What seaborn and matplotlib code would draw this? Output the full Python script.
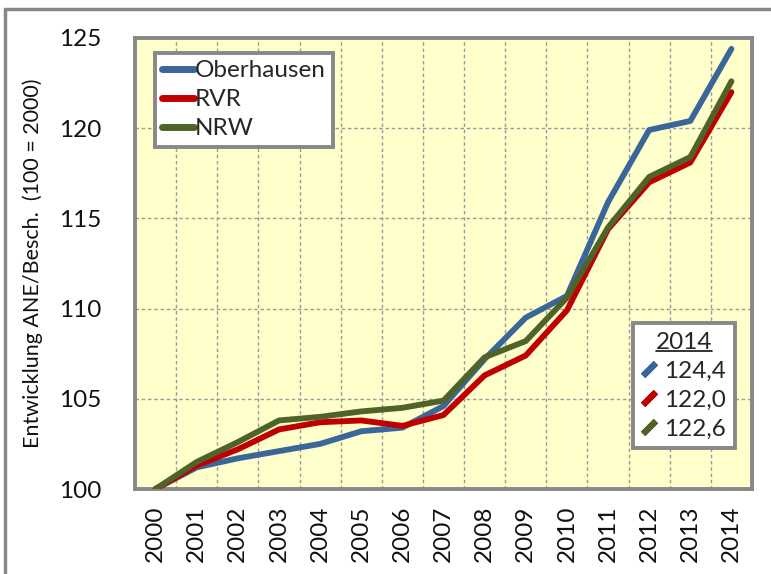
import numpy as np
import pandas as pd
import matplotlib
matplotlib.use("Agg")
import matplotlib.pyplot as plt
import seaborn as sns
from matplotlib.lines import Line2D
from matplotlib.patches import Rectangle

years = [str(y) for y in range(2000, 2015)]
oberhausen = [100.0, 101.2, 101.7, 102.1, 102.5, 103.2, 103.4, 104.6, 107.2, 109.5, 110.7, 115.9, 119.9, 120.4, 124.4]
rvr        = [100.0, 101.3, 102.2, 103.3, 103.7, 103.8, 103.5, 104.1, 106.3, 107.4, 109.9, 114.4, 117.0, 118.1, 122.0]
nrw        = [100.0, 101.5, 102.6, 103.8, 104.0, 104.3, 104.5, 104.9, 107.3, 108.2, 110.6, 114.5, 117.3, 118.4, 122.6]
series_names = ["Oberhausen", "RVR", "NRW"]
last_labels = ["124,4", "122,0", "122,6"]
colors = {"Oberhausen": "#3A6699", "RVR": "#C00000", "NRW": "#4F6228"}

df = pd.concat([
    pd.DataFrame({"idx": np.arange(len(years)), "year": years, "value": vals, "region": name})
    for name, vals in zip(series_names, [oberhausen, rvr, nrw])
], ignore_index=True)

sns.set_style("white")
plt.rcParams["font.family"] = ["Lato", "DejaVu Sans"]

FS = 17.5
W, H = 771, 574
fig = plt.figure(figsize=(W / 100, H / 100), dpi=100)
ax = fig.add_axes([135 / W, 1 - 489 / H, (752 - 135) / W, (489 - 38) / H])
ax.set_facecolor("#FFFFCC")

sns.lineplot(data=df, x="idx", y="value", hue="region", hue_order=series_names,
             palette=colors, linewidth=4.2, legend=False, ax=ax,
             solid_capstyle="round", solid_joinstyle="round", zorder=3)

ax.set_xlim(-0.5, len(years) - 0.5)
ax.set_ylim(100, 125)
ax.set_yticks([100, 105, 110, 115, 120, 125])
ax.set_yticklabels(["100", "105", "110", "115", "120", "125"])
ax.set_xticks(np.arange(-0.5, len(years), 1.0))
ax.set_xticklabels([])
ax.set_xticks(np.arange(len(years)), minor=True)
ax.set_xticklabels(years, minor=True, rotation=90)
ax.tick_params(axis="x", which="major", length=6, width=2.5, color="#888888", direction="out")
ax.tick_params(axis="x", which="minor", length=0, pad=12, labelsize=FS, labelcolor="#111111")
ax.tick_params(axis="y", which="major", length=7, width=1.5, color="#888888", direction="out",
               pad=17, labelsize=FS, labelcolor="#111111")
ax.set_xlabel("")
ax.set_ylabel("Entwicklung ANE/Besch.  (100 = 2000)", fontsize=15.5, labelpad=12, color="#111111")

ax.grid(True, which="major", axis="both", color="#9a9a9a", linestyle=(0, (2.5, 2)), linewidth=1.0, zorder=0)
ax.set_axisbelow(True)
for s in ax.spines.values():
    s.set_visible(True)
    s.set_color("#888888")
    s.set_linewidth(2.8)

handles = [Line2D([], [], color=colors[n], linewidth=5) for n in series_names]
leg1 = ax.legend(handles, series_names, loc="upper left", bbox_to_anchor=(0.032, 0.967),
                 borderaxespad=0, fontsize=FS, handlelength=1.3, handletextpad=0.05,
                 labelspacing=0.33, borderpad=0.3, frameon=True, fancybox=False, framealpha=1)
leg1.get_frame().set_edgecolor("#888888")
leg1.get_frame().set_linewidth(2.8)
ax.add_artist(leg1)

handles2 = [Line2D([], [], color=colors[n], linestyle="none", marker=(2, 2, -45),
                   markersize=13, markeredgewidth=4.5) for n in series_names]
leg2 = ax.legend(handles2, last_labels, title="2014", loc="upper left", bbox_to_anchor=(0.807, 0.368),
                 borderaxespad=0, fontsize=FS, title_fontsize=FS, handlelength=0.6,
                 handletextpad=0.35, labelspacing=0.33, borderpad=0.35, frameon=True,
                 fancybox=False, framealpha=1)
leg2.get_frame().set_edgecolor("#888888")
leg2.get_frame().set_linewidth(2.8)

# outer chart border
fig.patches.append(Rectangle((5 / W, -0.2), 1.2, 1.2 - 9 / H, transform=fig.transFigure,
                             fill=False, edgecolor="#888888", linewidth=2.5))

fig.canvas.draw()
r = fig.canvas.get_renderer()
tb = leg2.get_title().get_window_extent(r)
inv = fig.transFigure.inverted()
(x0, y0), (x1, y1) = inv.transform([(tb.x0, tb.y0), (tb.x1, tb.y0)])
fig.add_artist(Line2D([x0, x1], [y0 + 2 / H, y0 + 2 / H], transform=fig.transFigure,
                      color="#111111", linewidth=1.2))

fig.savefig("out.png", dpi=100)
